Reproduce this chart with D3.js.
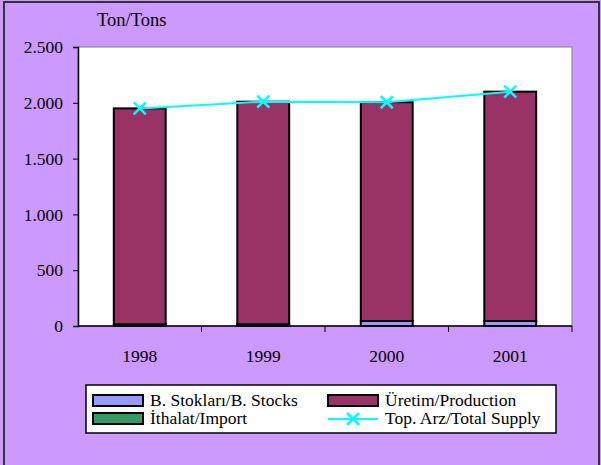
<!DOCTYPE html>
<html>
<head>
<meta charset="utf-8">
<script src="https://cdn.jsdelivr.net/npm/d3@7"></script>
<style>
  body { margin: 0; background: #CC99FF; }
  text { font-family: "Liberation Serif", "Times New Roman", serif; fill: #000; }
</style>
</head>
<body>
<div id="chart"></div>
<script>
// data (tons)
var years = ["1998", "1999", "2000", "2001"];
var stocks = [15, 15, 45, 45];
var production = [1935, 1995, 1960, 2055];
var imports = [0, 0, 0, 0];
var totalSupply = [1950, 2010, 2005, 2100];
var yTicks = [0, 500, 1000, 1500, 2000, 2500];

var seriesNames = ["B. Stokları/B. Stocks", "Üretim/Production", "İthalat/Import", "Top. Arz/Total Supply"];
var colors = { stocks: "#9999FF", production: "#993366", imports: "#339966", supply: "#00FFFF" };

var W = 601, H = 465;
var svg = d3.select("#chart").append("svg").attr("width", W).attr("height", H);

// outer frame
svg.append("rect").attr("x", 4).attr("y", 2).attr("width", W - 6).attr("height", H + 10)
  .attr("fill", "#CC99FF").attr("stroke", "#333").attr("stroke-width", 2);

var pLeft = 78, pRight = 572, pTop = 47, pBottom = 326;

var x = d3.scaleBand().domain(years).range([pLeft, pRight]).paddingInner(0.58).paddingOuter(0.29);
var xCat = d3.scaleBand().domain(years).range([pLeft, pRight]);
var y = d3.scaleLinear().domain([0, 2500]).range([pBottom, pTop]);

// plot area
svg.append("rect").attr("x", pLeft).attr("y", pTop).attr("width", pRight - pLeft).attr("height", pBottom - pTop)
  .attr("fill", "#fff").attr("stroke", "#808080").attr("stroke-width", 1);

// stacked bars
var rows = years.map(function(yr, i){
  return { year: yr, stocks: stocks[i], production: production[i], imports: imports[i] };
});
var stack = d3.stack().keys(["stocks", "production", "imports"])(rows);

stack.forEach(function(layer){
  svg.append("g").selectAll("rect").data(layer).enter().append("rect")
    .attr("x", d => x(d.data.year))
    .attr("width", x.bandwidth())
    .attr("y", d => y(d[1]))
    .attr("height", d => Math.max(0, y(d[0]) - y(d[1])))
    .attr("fill", colors[layer.key])
    .attr("stroke", "#000")
    .attr("stroke-width", d => (d[1] - d[0]) > 0 ? 2 : 0);
});

// y axis
var yAxis = d3.axisLeft(y).tickValues(yTicks).tickSize(5)
  .tickFormat(d => d3.format(",")(d).replace(",", "."));
var yg = svg.append("g").attr("transform", "translate(" + pLeft + ",0)").call(yAxis);
yg.select(".domain").attr("stroke", "#000").attr("stroke-width", 1.5);
yg.selectAll(".tick line").attr("stroke", "#000");
yg.selectAll("text").attr("font-size", 17.5).attr("x", -15).style("font-family", "Liberation Serif");

// x axis (ticks between categories)
var xg = svg.append("g").attr("transform", "translate(0," + pBottom + ")");
xg.append("line").attr("x1", pLeft).attr("x2", pRight).attr("stroke", "#000").attr("stroke-width", 1.5);
xg.selectAll(".tk").data(years).enter().append("line")
  .attr("x1", d => xCat(d) + xCat.bandwidth()).attr("x2", d => xCat(d) + xCat.bandwidth())
  .attr("y1", 0).attr("y2", 6).attr("stroke", "#000");
xg.selectAll(".lbl").data(years).enter().append("text")
  .attr("x", d => xCat(d) + xCat.bandwidth() / 2).attr("y", 36)
  .attr("text-anchor", "middle").attr("font-size", 17.5).text(d => d);

// total supply line
var line = d3.line().x((d, i) => xCat(years[i]) + xCat.bandwidth() / 2).y(d => y(d));
svg.append("path").datum(totalSupply).attr("d", line)
  .attr("fill", "none").attr("stroke", colors.supply).attr("stroke-width", 2);
var cross = "M-6,-6L6,6M-6,6L6,-6";
svg.append("g").selectAll("path").data(totalSupply).enter().append("path")
  .attr("transform", (d, i) => "translate(" + (xCat(years[i]) + xCat.bandwidth() / 2) + "," + y(d) + ")")
  .attr("d", cross).attr("stroke", colors.supply).attr("stroke-width", 2.5);

// unit label
svg.append("text").attr("x", 97).attr("y", 26).attr("font-size", 18.5).text("Ton/Tons");

// legend
var lg = svg.append("g");
lg.append("rect").attr("x", 86).attr("y", 385).attr("width", 470).attr("height", 48)
  .attr("fill", "#fff").attr("stroke", "#000").attr("stroke-width", 1.5);
var items = [
  { name: seriesNames[0], color: colors.stocks, col: 0, row: 0 },
  { name: seriesNames[1], color: colors.production, col: 1, row: 0 },
  { name: seriesNames[2], color: colors.imports, col: 0, row: 1 },
  { name: seriesNames[3], color: colors.supply, col: 1, row: 1, isLine: true }
];
items.forEach(function(it){
  var sx = it.col === 0 ? 93 : 328;
  var sy = 395 + it.row * 18;
  if (it.isLine) {
    lg.append("line").attr("x1", sx).attr("x2", sx + 50).attr("y1", sy + 6).attr("y2", sy + 6)
      .attr("stroke", it.color).attr("stroke-width", 2);
    lg.append("path").attr("transform", "translate(" + (sx + 25) + "," + (sy + 6) + ")")
      .attr("d", cross).attr("stroke", it.color).attr("stroke-width", 2.5);
  } else {
    lg.append("rect").attr("x", sx).attr("y", sy).attr("width", 50).attr("height", 11)
      .attr("fill", it.color).attr("stroke", "#000").attr("stroke-width", 2);
  }
  lg.append("text").attr("x", sx + 57).attr("y", sy + 11).attr("font-size", 17.5).text(it.name);
});
</script>
</body>
</html>
